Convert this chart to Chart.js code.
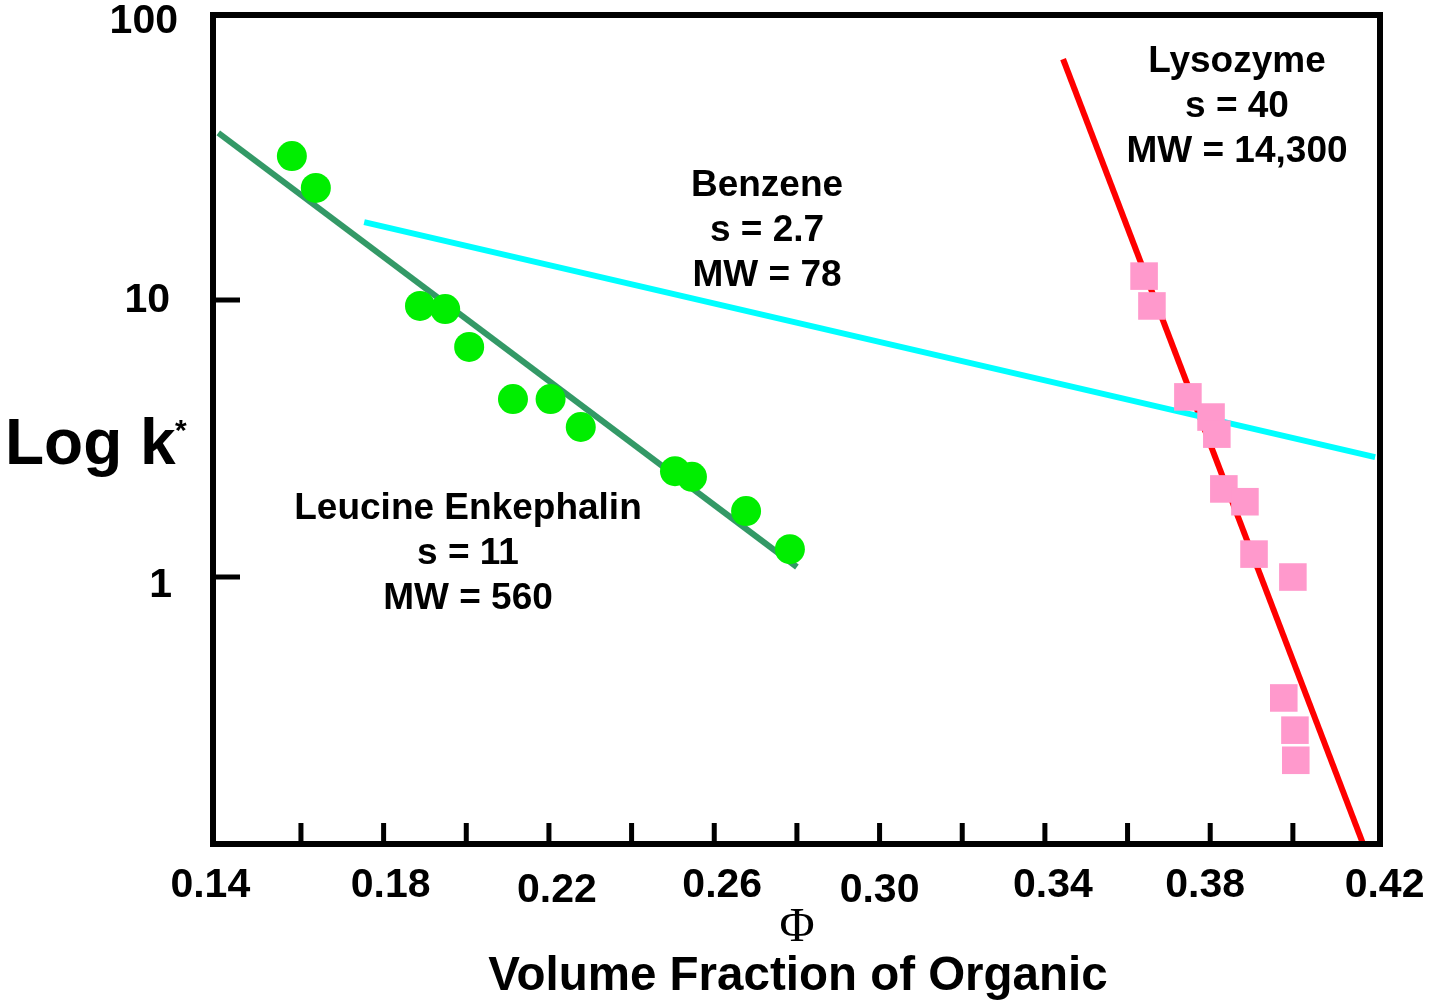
<!DOCTYPE html>
<html>
<head>
<meta charset="utf-8">
<script src="https://cdn.jsdelivr.net/npm/chart.js@4"></script>
<style>
  body { margin: 0; background: #fff; }
</style>
</head>
<body>
<canvas id="chart" width="1432" height="1000"></canvas>
<script>
// data
const leuPhi = [0.1578, 0.1636, 0.1888, 0.1949, 0.2007, 0.2113, 0.2204, 0.2277, 0.2505, 0.2546, 0.2677, 0.2783];
const leuK   = [33.1, 25.4, 9.52, 9.28, 6.77, 4.39, 4.39, 3.48, 2.41, 2.30, 1.73, 1.26];
const lysPhi = [0.3640, 0.3659, 0.3746, 0.3802, 0.3816, 0.3833, 0.3884, 0.3906, 0.4000, 0.3978, 0.4005, 0.4007];
const lysK   = [12.2, 9.52, 4.47, 3.78, 3.28, 2.08, 1.87, 1.21, 1.00, 0.366, 0.280, 0.218];

// fitted lines (end points)
const leuLinePhi = [0.140, 0.280];
const leuLineK   = [40.1, 1.087];
const benLinePhi = [0.1753, 0.4199];
const benLineK   = [19.1, 2.71];
const lysLinePhi = [0.3444, 0.4170];
const lysLineK   = [74.1, 0.1087];

// axes
const xTickValues = [0.16, 0.18, 0.20, 0.22, 0.24, 0.26, 0.28, 0.30, 0.32, 0.34, 0.36, 0.38, 0.40];
const xLabelValues = [0.14, 0.18, 0.22, 0.26, 0.30, 0.34, 0.38, 0.42];
const xLabels = ['0.14', '0.18', '0.22', '0.26', '0.30', '0.34', '0.38', '0.42'];
const yTickValues = [10, 1];
const yLabelValues = [100, 10, 1];
const yLabels = ['100', '10', '1'];

const notes = [
  ['Benzene', 's = 2.7', 'MW = 78'],
  ['Lysozyme', 's = 40', 'MW = 14,300'],
  ['Leucine Enkephalin', 's = 11', 'MW = 560']
];

function pts(xs, ys) {
  return xs.map((x, i) => ({ x: x, y: ys[i] }));
}

const FONT = '"Liberation Sans", Arial, sans-serif';

const decor = {
  id: 'decor',
  afterDraw(chart) {
    const ctx = chart.ctx;
    const a = chart.chartArea;
    const xs = chart.scales.x, ys = chart.scales.y;
    ctx.save();
    ctx.strokeStyle = '#000';
    ctx.lineWidth = 6;
    ctx.strokeRect(a.left, a.top, a.right - a.left, a.bottom - a.top);

    // inward ticks
    ctx.lineWidth = 5;
    ctx.beginPath();
    xTickValues.forEach(v => {
      const px = xs.getPixelForValue(v);
      ctx.moveTo(px, a.bottom);
      ctx.lineTo(px, a.bottom - 21);
    });
    yTickValues.forEach(v => {
      const py = ys.getPixelForValue(v);
      ctx.moveTo(a.left, py);
      ctx.lineTo(a.left + 27, py);
    });
    ctx.stroke();

    ctx.fillStyle = '#000';
    ctx.font = 'bold 41px ' + FONT;
    ctx.textAlign = 'center';
    ctx.textBaseline = 'alphabetic';
    const xNudge = [-8, 7, 8, 8, 0, 8, -5, 9];
    const xDrop = [0, 0, 5, 0, 5, 0, 0, 0];
    xLabelValues.forEach((v, i) => {
      ctx.fillText(xLabels[i], xs.getPixelForValue(v) + xNudge[i], 897 + xDrop[i]);
    });

    ctx.textAlign = 'right';
    const yRight = [178, 170, 172];
    const yNudge = [10, 12, 20];
    yLabelValues.forEach((v, i) => {
      ctx.fillText(yLabels[i], yRight[i], ys.getPixelForValue(v) + yNudge[i]);
    });

    // axis titles
    ctx.textAlign = 'left';
    ctx.font = 'bold 64px ' + FONT;
    ctx.fillText('Log k', 5, 464);
    ctx.font = 'bold 30px ' + FONT;
    ctx.fillText('*', 175, 440);

    ctx.textAlign = 'center';
    ctx.font = '48px "Liberation Serif", "Times New Roman", serif';
    ctx.fillText('\u03A6', 797, 941);
    ctx.font = 'bold 47.5px ' + FONT;
    ctx.fillText('Volume Fraction of Organic', 798, 990);

    // labels for each compound
    ctx.font = 'bold 37px ' + FONT;
    const spots = [[767, 196], [1237, 72], [468, 519]];
    notes.forEach((lines, i) => {
      lines.forEach((t, j) => {
        ctx.fillText(t, spots[i][0], spots[i][1] + j * 45);
      });
    });
    ctx.restore();
  }
};

new Chart(document.getElementById('chart'), {
  type: 'scatter',
  data: {
    datasets: [
      {
        label: 'Leucine Enkephalin',
        data: pts(leuPhi, leuK),
        pointStyle: 'circle',
        pointRadius: 15,
        backgroundColor: '#00ee00',
        borderWidth: 0
      },
      {
        label: 'Lysozyme',
        data: pts(lysPhi, lysK),
        pointStyle: 'rect',
        pointRadius: 19.5,
        backgroundColor: '#ff99cc',
        borderWidth: 0
      },
      {
        label: 'Leucine fit',
        data: pts(leuLinePhi, leuLineK),
        showLine: true,
        pointRadius: 0,
        borderColor: '#339966',
        borderWidth: 6
      },
      {
        label: 'Benzene fit',
        data: pts(benLinePhi, benLineK),
        showLine: true,
        pointRadius: 0,
        borderColor: '#00ffff',
        borderWidth: 6
      },
      {
        label: 'Lysozyme fit',
        data: pts(lysLinePhi, lysLineK),
        showLine: true,
        pointRadius: 0,
        borderColor: '#ff0000',
        borderWidth: 6
      }
    ]
  },
  options: {
    responsive: false,
    animation: false,
    layout: { autoPadding: false, padding: { left: 213, top: 15, right: 52, bottom: 156 } },
    plugins: {
      legend: { display: false },
      tooltip: { enabled: false }
    },
    scales: {
      x: { type: 'linear', display: false, min: 0.13872, max: 0.42108 },
      y: { type: 'logarithmic', display: false, min: 0.1087, max: 106.9 }
    }
  },
  plugins: [decor]
});
</script>
</body>
</html>
